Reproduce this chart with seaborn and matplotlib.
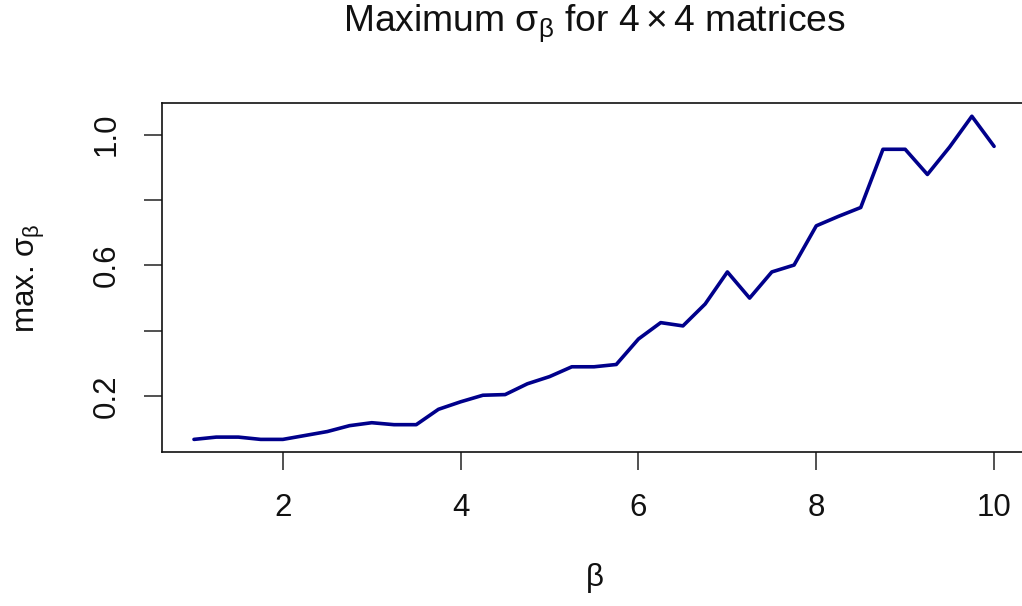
import matplotlib
matplotlib.use("Agg")
import matplotlib.pyplot as plt
import seaborn as sns
import pandas as pd

# Grid of beta values and the maximum sigma_beta found at each
beta = [1.0, 1.25, 1.5, 1.75, 2.0, 2.25, 2.5, 2.75, 3.0, 3.25, 3.5, 3.75,
        4.0, 4.25, 4.5, 4.75, 5.0, 5.25, 5.5, 5.75, 6.0, 6.25, 6.5, 6.75,
        7.0, 7.25, 7.5, 7.75, 8.0, 8.25, 8.5, 8.75, 9.0, 9.25, 9.5, 9.75, 10.0]
max_sigma = [0.068, 0.075, 0.075, 0.068, 0.068, 0.080, 0.092, 0.110, 0.119,
             0.113, 0.113, 0.160, 0.183, 0.203, 0.205, 0.238, 0.260, 0.290,
             0.290, 0.297, 0.375, 0.425, 0.415, 0.482, 0.580, 0.500, 0.580,
             0.601, 0.721, 0.750, 0.777, 0.955, 0.955, 0.878, 0.962, 1.056,
             0.964]

x_ticks = [2, 4, 6, 8, 10]
y_ticks = [0.2, 0.4, 0.6, 0.8, 1.0]
y_tick_labels = ["0.2", "", "0.6", "", "1.0"]

df = pd.DataFrame({"beta": beta, "max_sigma": max_sigma})

sns.set_style("white")
plt.rcParams["font.family"] = ["Liberation Sans", "DejaVu Sans"]
plt.rcParams["mathtext.fontset"] = "custom"
plt.rcParams["mathtext.rm"] = "Liberation Sans"
plt.rcParams["mathtext.it"] = "Liberation Sans"
plt.rcParams["mathtext.bf"] = "Liberation Sans"

fig = plt.figure(figsize=(10.22, 6.06), dpi=100)
ax = fig.add_axes([0.1585, 0.2536, 0.8455, 0.5759])

sns.lineplot(data=df, x="beta", y="max_sigma", ax=ax, color="#00008B",
             linewidth=2.6, estimator=None)

# R-style 4% padding around the data range
xr = max(beta) - min(beta)
yr = max(max_sigma) - min(max_sigma)
ax.set_xlim(min(beta) - 0.04 * xr, max(beta) + 0.04 * xr)
ax.set_ylim(min(max_sigma) - 0.04 * yr, max(max_sigma) + 0.04 * yr)

ax.set_xticks(x_ticks)
ax.set_xticklabels([str(t) for t in x_ticks])
ax.set_yticks(y_ticks)
ax.set_yticklabels(y_tick_labels, rotation=90, va="center")

ax.tick_params(axis="both", direction="out", length=13, width=1.1,
               color="#222222", labelsize=22.5, labelcolor="#111111", pad=16,
               bottom=True, left=True, top=False, right=False)

for side in ["left", "bottom", "top", "right"]:
    ax.spines[side].set_visible(True)
    ax.spines[side].set_color("#111111")
    ax.spines[side].set_linewidth(1.2)

ax.set_xlabel(r"$\mathrm{\beta}$", fontsize=22.5, labelpad=28, color="#111111")
ax.set_ylabel(r"max. $\mathrm{\sigma_{\beta}}$", fontsize=22.5, labelpad=32,
              color="#111111")
ax.set_title(r"Maximum $\mathrm{\sigma_{\beta}}$ for $4\times4$ matrices",
             fontsize=26.8, pad=52, color="#111111")

fig.savefig("out.png", dpi=100)
